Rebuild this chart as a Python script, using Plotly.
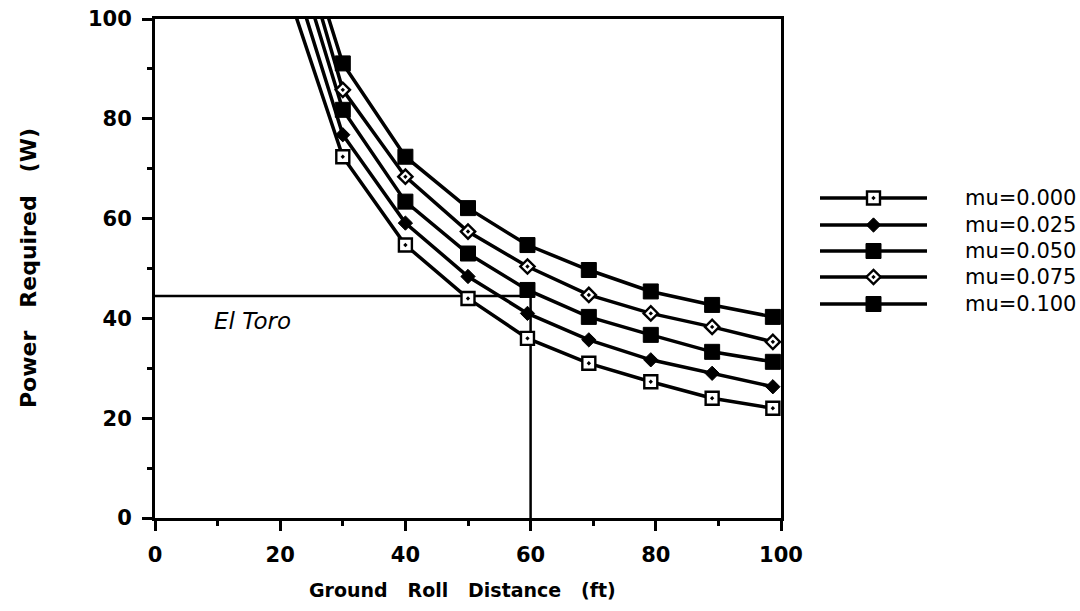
import plotly.graph_objects as go

# ---------------- data ----------------
distance_ft = [20, 30, 40, 50, 59.5, 69.3, 79.2, 89, 98.7]
mu_labels = ["mu=0.000", "mu=0.025", "mu=0.050", "mu=0.075", "mu=0.100"]
power_mu_000 = [110, 72.4, 54.7, 44.0, 36.0, 31.0, 27.3, 24.0, 22.0]
power_mu_025 = [117, 76.8, 59.1, 48.4, 41.0, 35.7, 31.7, 29.0, 26.3]
power_mu_050 = [123, 81.8, 63.4, 53.0, 45.7, 40.3, 36.7, 33.3, 31.3]
power_mu_075 = [129, 85.8, 68.4, 57.4, 50.4, 44.7, 41.0, 38.3, 35.3]
power_mu_100 = [131, 91.1, 72.4, 62.1, 54.7, 49.7, 45.4, 42.7, 40.3]
el_toro_distance = 60
el_toro_power = 44.5
x_ticks = [0, 20, 40, 60, 80, 100]
y_ticks = [0, 20, 40, 60, 80, 100]

series = [power_mu_000, power_mu_025, power_mu_050, power_mu_075, power_mu_100]

# ---------------- styles ----------------
BLACK = "black"
NB = "\u00a0"
marker_styles = [
    dict(symbol="square-dot", size=13, color="white", line=dict(color=BLACK, width=2.4)),
    dict(symbol="diamond", size=11, color=BLACK, line=dict(color=BLACK, width=1)),
    dict(symbol="square", size=15, color=BLACK, line=dict(color=BLACK, width=1)),
    dict(symbol="diamond-dot", size=11, color="white", line=dict(color=BLACK, width=2.4)),
    dict(symbol="square", size=15, color=BLACK, line=dict(color=BLACK, width=1)),
]

# layout geometry (px)
W, H = 1080, 611
ML, MR, MT, MB = 155, 5, 19, 93
PW = W - ML - MR
PH = H - MT - MB
plot_right = 781
leg_x0, leg_x1, leg_text_x = 820, 927, 963
legend_rows = [198, 225, 251, 277, 304]

def px_x(p):
    return (p - ML) / PW

def px_y(p):
    return (H - MB - p) / PH

fig = go.Figure()

# El Toro reference lines
fig.add_trace(go.Scatter(
    x=[0, el_toro_distance, el_toro_distance],
    y=[el_toro_power, el_toro_power, 0],
    mode="lines", line=dict(color=BLACK, width=2.5),
    showlegend=False, hoverinfo="skip"))

for label, vals, ms in zip(mu_labels, series, marker_styles):
    fig.add_trace(go.Scatter(
        x=distance_ft, y=vals, name=label, mode="lines+markers",
        line=dict(color=BLACK, width=3.5), marker=ms, showlegend=False))

# custom legend drawn on an auxiliary axis pair
for label, ms, row in zip(mu_labels, marker_styles, legend_rows):
    fig.add_trace(go.Scatter(
        x=[0, 1], y=[row, row], xaxis="x2", yaxis="y2", mode="lines",
        line=dict(color=BLACK, width=3.5), showlegend=False, hoverinfo="skip"))
    fig.add_trace(go.Scatter(
        x=[0.5], y=[row], xaxis="x2", yaxis="y2", mode="markers",
        marker=ms, showlegend=False, hoverinfo="skip"))

tick_font = dict(family="DejaVu Sans", size=21, color=BLACK, weight="bold")
minor_ticks = dict(tickmode="linear", tick0=0, dtick=10, ticks="outside",
                   ticklen=5, tickwidth=2.5, tickcolor=BLACK, showgrid=False)

fig.update_layout(
    width=W, height=H, autosize=False,
    margin=dict(l=ML, r=MR, t=MT, b=MB, autoexpand=False),
    paper_bgcolor="white", plot_bgcolor="white",
    showlegend=False,
    xaxis=dict(
        domain=[0, px_x(plot_right)], range=[0, 100], automargin=False,
        tickmode="array", tickvals=x_ticks, ticktext=[str(v) for v in x_ticks],
        ticks="outside", ticklen=10, tickwidth=2.5, tickcolor=BLACK,
        minor=minor_ticks,
        showline=True, linewidth=3, linecolor=BLACK, mirror=True,
        showgrid=False, zeroline=False, tickfont=tick_font,
        ticklabelstandoff=6,
    ),
    yaxis=dict(
        domain=[0, 1], range=[0, 100], automargin=False,
        tickmode="array", tickvals=y_ticks, ticktext=[str(v) for v in y_ticks],
        ticks="outside", ticklen=10, tickwidth=2.5, tickcolor=BLACK,
        minor=minor_ticks,
        showline=True, linewidth=3, linecolor=BLACK, mirror=True,
        showgrid=False, zeroline=False, tickfont=tick_font,
        ticklabelstandoff=6,
    ),
    xaxis2=dict(domain=[px_x(leg_x0), px_x(leg_x1)], range=[0, 1], visible=False,
                anchor="y2", fixedrange=True, automargin=False),
    yaxis2=dict(domain=[0, 1], range=[H - MB, MT], visible=False,
                anchor="x2", fixedrange=True, automargin=False),
    annotations=[
        dict(text="Ground" + NB * 2 + " Roll" + NB * 2 + " Distance" + NB * 2 + " (ft)",
             xref="paper", yref="paper", x=px_x(462), y=px_y(590),
             xanchor="center", yanchor="middle", showarrow=False,
             font=dict(family="DejaVu Sans", size=19, color=BLACK, weight="bold")),
        dict(text="Power" + NB * 2 + " Required" + NB * 2 + " (W)",
             xref="paper", yref="paper", x=px_x(28), y=px_y(268),
             xanchor="center", yanchor="middle", showarrow=False, textangle=-90,
             font=dict(family="DejaVu Sans", size=22, color=BLACK, weight="bold")),
        dict(text="El Toro", xref="x", yref="y", x=9.1, y=39.5,
             xanchor="left", yanchor="middle", showarrow=False,
             font=dict(family="DejaVu Sans", size=23, color=BLACK, style="italic")),
    ] + [
        dict(text=label, xref="paper", yref="y2", x=px_x(leg_text_x), y=row,
             xanchor="left", yanchor="middle", showarrow=False,
             font=dict(family="DejaVu Sans", size=21, color=BLACK))
        for label, row in zip(mu_labels, legend_rows)
    ],
)

fig.write_html("out.html")
